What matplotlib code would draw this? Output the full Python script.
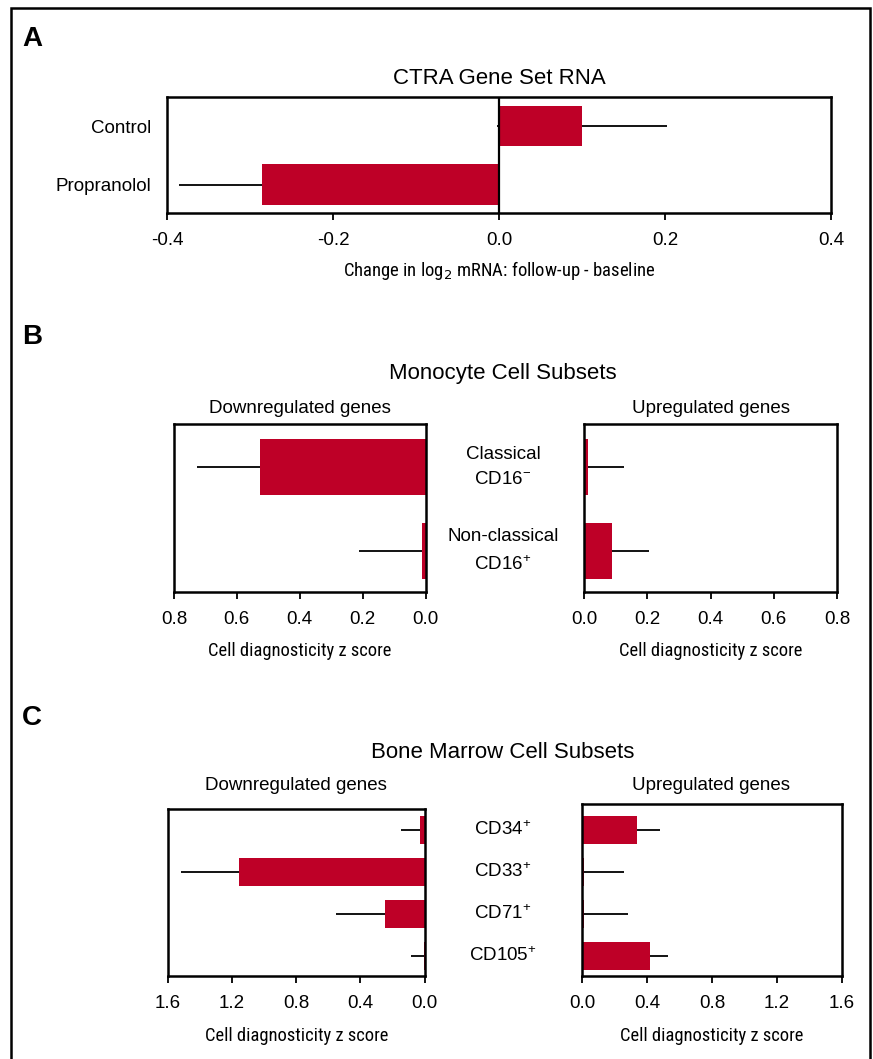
import matplotlib
matplotlib.use('Agg')
import matplotlib.pyplot as plt
from matplotlib import font_manager
from matplotlib.patches import Rectangle
from matplotlib.transforms import blended_transform_factory

# Panel A: CTRA gene set
ctra_groups = ['Control', 'Propranolol']
ctra_change = [0.100, -0.286]
ctra_err = [0.102, 0.100]
ctra_ticks = [-0.4, -0.2, 0.0, 0.2, 0.4]

# Panel B: monocyte subsets
mono_subsets = ['Classical\nCD16$^{-}$', 'Non-classical\nCD16$^{+}$']
mono_down = [0.526, 0.010]
mono_down_err = [0.200, 0.200]
mono_up = [0.013, 0.087]
mono_up_err = [0.115, 0.117]
mono_ticks = [0.0, 0.2, 0.4, 0.6, 0.8]

# Panel C: bone marrow subsets
bm_subsets = ['CD34$^{+}$', 'CD33$^{+}$', 'CD71$^{+}$', 'CD105$^{+}$']
bm_down = [0.031, 1.16, 0.246, 0.003]
bm_down_err = [0.114, 0.36, 0.304, 0.084]
bm_up = [0.339, 0.010, 0.010, 0.417]
bm_up_err = [0.141, 0.25, 0.27, 0.113]
bm_ticks = [0.0, 0.4, 0.8, 1.2, 1.6]

RED = '#BE0027'
W, H = 873, 1059
BASE = 'Liberation Sans'


def narrow_font():
  # look for any condensed / narrow face that happens to be installed
  prefs = ['Liberation', 'Arial', 'Roboto', 'Noto', 'Open', 'DejaVu']
  found = []
  for f in font_manager.fontManager.ttflist:
    tag = f.fname + ' ' + f.name
    if not ('Narrow' in tag or 'Condensed' in tag or 'Cond' in tag):
      continue
    if f.style != 'normal' or f.weight not in (400, 'normal', 'regular', 'book'):
      continue
    rank = next((i for i, p in enumerate(prefs) if p in tag), len(prefs))
    found.append((rank, f.fname))
  if found:
    found.sort()
    return font_manager.FontProperties(fname=found[0][1])
  return font_manager.FontProperties(family=BASE)


NARROW = narrow_font()

plt.rcParams['font.family'] = [BASE, 'DejaVu Sans']
plt.rcParams['mathtext.fontset'] = 'custom'
plt.rcParams['mathtext.rm'] = BASE
plt.rcParams['mathtext.it'] = BASE + ':italic'


def px_axes(fig, x0, y0, x1, y1):
  return fig.add_axes([x0 / W, 1 - y1 / H, (x1 - x0) / W, (y1 - y0) / H])


def style_axes(ax, ticks):
  for s in ax.spines.values():
    s.set_linewidth(1.8)
  ax.set_xticks(ticks)
  ax.set_xticklabels(['%.1f' % t for t in ticks], fontsize=13.5)
  ax.tick_params(axis='x', length=5, width=1.3, pad=9)
  ax.tick_params(axis='y', left=False, labelleft=False, length=0)


def hbars(ax, values, errs, height):
  pos = list(range(len(values)))
  ax.errorbar(values, pos, xerr=errs, fmt='none', ecolor='black',
              elinewidth=1.3, capsize=0, zorder=1)
  ax.barh(pos, values, height=height, color=RED, zorder=2)


labels_to_fit = []


def xlabel(ax, text, width_px, pad=7):
  lab = ax.set_xlabel(text, fontproperties=NARROW, labelpad=pad)
  lab.set_fontsize(14.5)
  labels_to_fit.append((lab, width_px))


def px(fig, x, y, s, **kw):
  fig.text(x / W, 1 - y / H, s, **kw)


fig = plt.figure(figsize=(W / 100, H / 100), dpi=100)
fig.add_artist(Rectangle((11 / W, -0.02), 859 / W, 1 - 7.5 / H + 0.02,
                         transform=fig.transFigure, fill=False,
                         edgecolor='black', linewidth=1.8))

# ---- A ----
px(fig, 22, 39, 'A', fontsize=20, fontweight='bold', va='center')
axA = px_axes(fig, 167, 97, 831, 213)
hbars(axA, ctra_change, ctra_err, 0.69)
axA.axvline(0, color='black', linewidth=1.6, zorder=3)
axA.set_xlim(-0.4, 0.4)
axA.set_ylim(1.487, -0.496)
style_axes(axA, ctra_ticks)
axA.tick_params(axis='y', labelleft=True, labelsize=13.5, pad=11)
axA.set_yticks(range(len(ctra_groups)))
axA.set_yticklabels(ctra_groups)
axA.set_title('CTRA Gene Set RNA', fontsize=16, pad=9)
xlabel(axA, 'Change in log$_2$ mRNA: follow-up - baseline', 312)

# ---- B ----
px(fig, 22, 337, 'B', fontsize=20, fontweight='bold', va='center')
px(fig, 503, 374, 'Monocyte Cell Subsets', fontsize=16, ha='center', va='center')
axBl = px_axes(fig, 174, 424, 425.5, 592)
hbars(axBl, mono_down, mono_down_err, 0.66)
axBl.set_xlim(0.8, 0.0)
axBl.set_ylim(1.488, -0.512)
style_axes(axBl, mono_ticks)
axBl.set_title('Downregulated genes', fontsize=13.5, pad=8)
xlabel(axBl, 'Cell diagnosticity z score', 183, pad=10)

axBr = px_axes(fig, 584, 424, 837, 592)
hbars(axBr, mono_up, mono_up_err, 0.66)
axBr.set_xlim(0.0, 0.8)
axBr.set_ylim(1.488, -0.512)
style_axes(axBr, mono_ticks)
axBr.set_title('Upregulated genes', fontsize=13.5, pad=8)
xlabel(axBr, 'Cell diagnosticity z score', 183, pad=10)
trB = blended_transform_factory(axBr.transAxes, axBr.transData)
for i, lab in enumerate(mono_subsets):
  axBr.text(-0.32, i, lab, transform=trB, ha='center', va='center',
            fontsize=13.5, linespacing=1.65)

# ---- C ----
px(fig, 22, 718, 'C', fontsize=20, fontweight='bold', va='center')
px(fig, 503, 752, 'Bone Marrow Cell Subsets', fontsize=16, ha='center', va='center')
axCl = px_axes(fig, 168, 809, 424.5, 975.5)
hbars(axCl, bm_down, bm_down_err, 0.66)
axCl.set_xlim(1.6, 0.0)
axCl.set_ylim(3.464, -0.5)
style_axes(axCl, bm_ticks)
xlabel(axCl, 'Cell diagnosticity z score', 183, pad=11)
px(fig, 296, 785, 'Downregulated genes', fontsize=13.5, ha='center', va='center')

axCr = px_axes(fig, 582.3, 804, 841.6, 975.5)
hbars(axCr, bm_up, bm_up_err, 0.66)
axCr.set_xlim(0.0, 1.6)
axCr.set_ylim(3.464, -0.619)
style_axes(axCr, bm_ticks)
xlabel(axCr, 'Cell diagnosticity z score', 183, pad=11)
px(fig, 711, 785, 'Upregulated genes', fontsize=13.5, ha='center', va='center')
trC = blended_transform_factory(axCr.transAxes, axCr.transData)
for i, lab in enumerate(bm_subsets):
  axCr.text(-0.306, i, lab, transform=trC, ha='center', va='center',
            fontsize=13.5)

# scale the axis labels so their widths match the original layout
fig.canvas.draw()
r = fig.canvas.get_renderer()
for lab, w in labels_to_fit:
  cur = lab.get_window_extent(r).width
  lab.set_fontsize(min(15.0, lab.get_fontsize() * w / cur))

fig.savefig('out.png', dpi=100)
